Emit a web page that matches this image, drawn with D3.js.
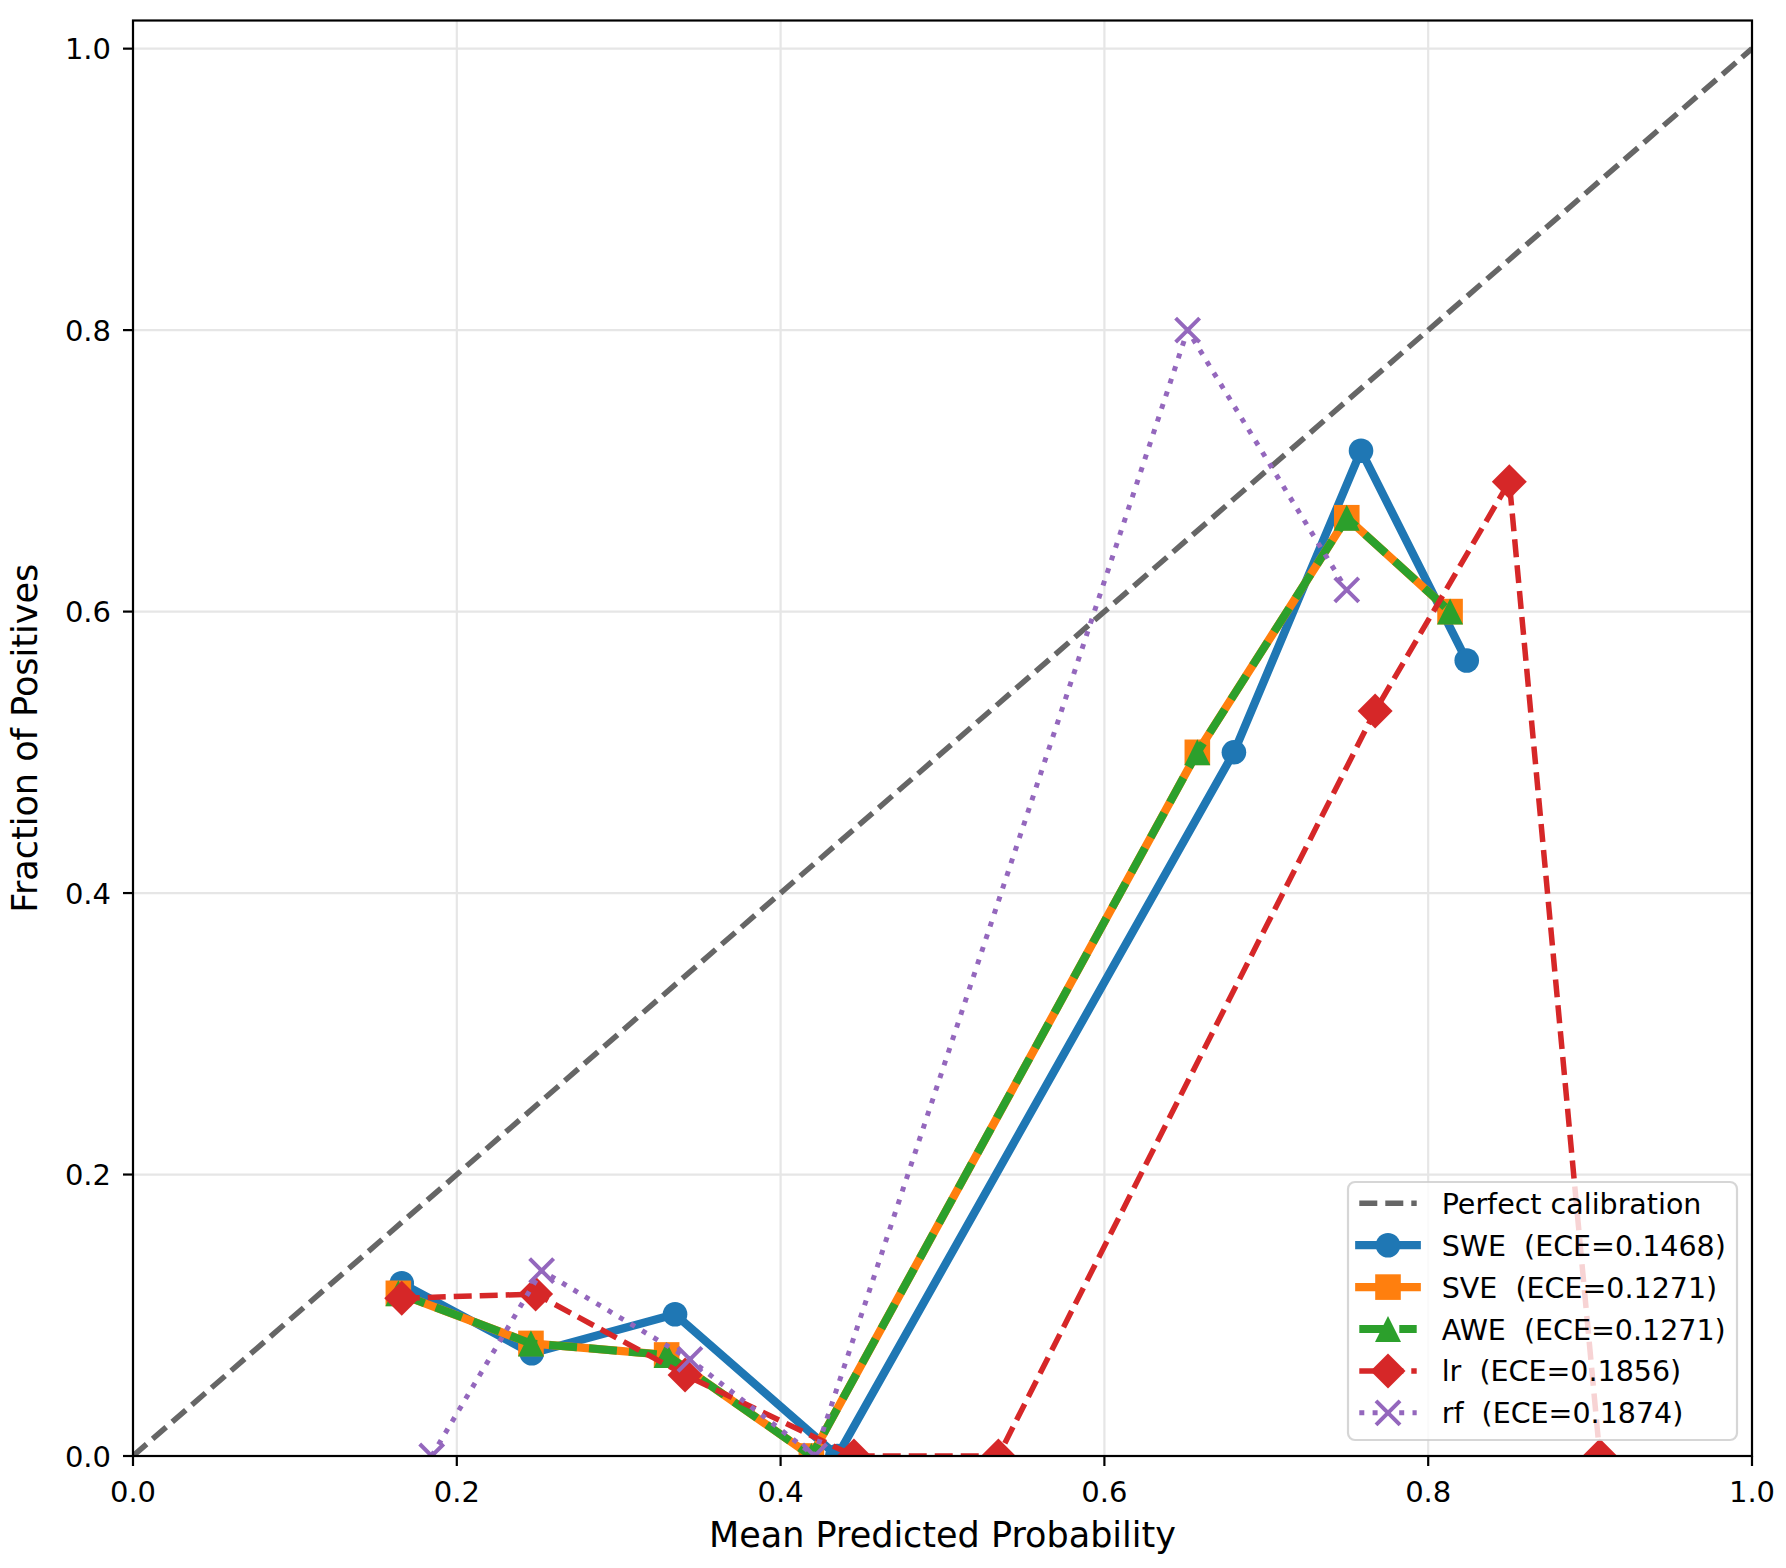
<!DOCTYPE html>
<html>
<head>
<meta charset="utf-8">
<script src="https://cdn.jsdelivr.net/npm/d3@7"></script>
<style>
  html, body { margin: 0; padding: 0; background: #fff; }
  text { font-family: "DejaVu Sans", sans-serif; fill: #000; }
</style>
</head>
<body>
<div id="chart"></div>
<script>
// Values
const ticks = [0.0, 0.2, 0.4, 0.6, 0.8, 1.0];
const tickLabels = ["0.0", "0.2", "0.4", "0.6", "0.8", "1.0"];

const sweX = [0.166, 0.2463, 0.3348, 0.435, 0.680, 0.7585, 0.8238];
const sweY = [0.1227, 0.0730, 0.1007, 0.0, 0.5, 0.7143, 0.5652];

const sveX = [0.1639, 0.2458, 0.3296, 0.419, 0.6574, 0.7497, 0.8135];
const sveY = [0.1156, 0.0800, 0.0718, 0.0, 0.5, 0.6667, 0.6];

const aweX = [0.1639, 0.2458, 0.3296, 0.419, 0.6574, 0.7497, 0.8135];
const aweY = [0.1156, 0.0800, 0.0718, 0.0, 0.5, 0.6667, 0.6];

const lrX = [0.166, 0.2487, 0.341, 0.4453, 0.5345, 0.7672, 0.8501, 0.906];
const lrY = [0.1121, 0.1151, 0.0576, 0.0, 0.0, 0.5294, 0.6923, 0.0];

const rfX = [0.1845, 0.2524, 0.344, 0.421, 0.6514, 0.7497];
const rfY = [0.0, 0.1317, 0.0687, 0.0, 0.8, 0.6154];

const diagX = [0, 1];
const diagY = [0, 1];

const names = ["Perfect calibration", "SWE  (ECE=0.1468)", "SVE  (ECE=0.1271)",
               "AWE  (ECE=0.1271)", "lr  (ECE=0.1856)", "rf  (ECE=0.1874)"];

// styles (kept apart from the data)
const styles = [
  { color: "#666666", width: 5.5, dash: "18,8", cap: "butt", marker: null },
  { color: "#1f77b4", width: 8.3, dash: null, cap: "square", marker: "circle" },
  { color: "#ff7f0e", width: 8.3, dash: null, cap: "square", marker: "square" },
  { color: "#2ca02c", width: 8, dash: "28,12", cap: "butt", marker: "triangle" },
  { color: "#d62728", width: 5.5, dash: "18,8", cap: "butt", marker: "diamond" },
  { color: "#9467bd", width: 5, dash: "5,8.3", cap: "butt", marker: "x" }
];

const series = [
  { x: diagX, y: diagY },
  { x: sweX, y: sweY },
  { x: sveX, y: sveY },
  { x: aweX, y: aweY },
  { x: lrX, y: lrY },
  { x: rfX, y: rfY }
];

const W = 1786, H = 1568;
const margin = { top: 20.5, right: 34, bottom: 112, left: 133 };
const width = W - margin.left - margin.right;
const height = H - margin.top - margin.bottom;

const svg = d3.select("#chart").append("svg")
  .attr("width", W)
  .attr("height", H);

const g = svg.append("g")
  .attr("transform", `translate(${margin.left},${margin.top})`);

const x = d3.scaleLinear().domain([0, 1]).range([0, width]);
const y = d3.scaleLinear().domain([0, 1.02]).range([height, 0]);

// clip area
svg.append("defs").append("clipPath").attr("id", "plotclip")
  .append("rect").attr("x", 0).attr("y", 0).attr("width", width).attr("height", height);

// grid
g.append("g").selectAll("line").data(ticks).enter().append("line")
  .attr("x1", d => x(d)).attr("x2", d => x(d))
  .attr("y1", 0).attr("y2", height)
  .attr("stroke", "#e6e6e6").attr("stroke-width", 2.2);
g.append("g").selectAll("line").data(ticks).enter().append("line")
  .attr("x1", 0).attr("x2", width)
  .attr("y1", d => y(d)).attr("y2", d => y(d))
  .attr("stroke", "#e6e6e6").attr("stroke-width", 2.2);

// marker path generator
function markerPath(type) {
  if (type === "circle") {
    return d3.symbol().type(d3.symbolCircle).size(Math.PI * 12.3 * 12.3)();
  }
  if (type === "square") {
    const s = 12.8;
    return `M${-s},${-s}L${s},${-s}L${s},${s}L${-s},${s}Z`;
  }
  if (type === "triangle") {
    const s = 13;
    return `M0,${-s}L${s},${s}L${-s},${s}Z`;
  }
  if (type === "diamond") {
    const s = 17.5;
    return `M0,${-s}L${s},0L0,${s}L${-s},0Z`;
  }
  if (type === "x") {
    const s = 12;
    return `M${-s},${-s}L${s},${s}M${-s},${s}L${s},${-s}`;
  }
  return "";
}

function drawMarker(sel, type, color) {
  if (type === "x") {
    sel.attr("d", markerPath(type)).attr("fill", "none")
      .attr("stroke", color).attr("stroke-width", 4);
  } else {
    sel.attr("d", markerPath(type)).attr("fill", color).attr("stroke", "none");
  }
}

const plot = g.append("g").attr("clip-path", "url(#plotclip)");

const line = d3.line().x(d => x(d[0])).y(d => y(d[1]));

series.forEach((s, i) => {
  const st = styles[i];
  const pts = s.x.map((v, j) => [v, s.y[j]]);
  plot.append("path")
    .datum(pts)
    .attr("d", line)
    .attr("fill", "none")
    .attr("stroke", st.color)
    .attr("stroke-width", st.width)
    .attr("stroke-linecap", st.cap)
    .attr("stroke-linejoin", "round")
    .attr("stroke-dasharray", st.dash);
  if (st.marker) {
    plot.append("g").selectAll("path").data(pts).enter().append("path")
      .attr("transform", d => `translate(${x(d[0])},${y(d[1])})`)
      .call(sel => drawMarker(sel, st.marker, st.color));
  }
});

// spines
g.append("rect")
  .attr("x", 0).attr("y", 0).attr("width", width).attr("height", height)
  .attr("fill", "none").attr("stroke", "#000").attr("stroke-width", 2.2);

// x ticks
const xt = g.append("g");
xt.selectAll("line").data(ticks).enter().append("line")
  .attr("x1", d => x(d)).attr("x2", d => x(d))
  .attr("y1", height).attr("y2", height + 10)
  .attr("stroke", "#000").attr("stroke-width", 2.2);
xt.selectAll("text").data(ticks).enter().append("text")
  .attr("x", d => x(d)).attr("y", height + 46)
  .attr("text-anchor", "middle")
  .style("font-size", "29px")
  .text((d, i) => tickLabels[i]);

// y ticks
const yt = g.append("g");
yt.selectAll("line").data(ticks).enter().append("line")
  .attr("x1", -10).attr("x2", 0)
  .attr("y1", d => y(d)).attr("y2", d => y(d))
  .attr("stroke", "#000").attr("stroke-width", 2.2);
yt.selectAll("text").data(ticks).enter().append("text")
  .attr("x", -22).attr("y", d => y(d) + 10.5)
  .attr("text-anchor", "end")
  .style("font-size", "29px")
  .text((d, i) => tickLabels[i]);

// axis labels
g.append("text")
  .attr("x", width / 2).attr("y", height + 91)
  .attr("text-anchor", "middle")
  .style("font-size", "35px")
  .text("Mean Predicted Probability");

svg.append("text")
  .attr("transform", `translate(37,${margin.top + height / 2}) rotate(-90)`)
  .attr("text-anchor", "middle")
  .style("font-size", "35px")
  .text("Fraction of Positives");

// legend
const legend = svg.append("g").attr("transform", "translate(1348,1182)");
legend.append("rect")
  .attr("x", 0).attr("y", 0).attr("width", 389).attr("height", 258)
  .attr("rx", 7).attr("ry", 7)
  .attr("fill", "#fff").attr("fill-opacity", 0.8)
  .attr("stroke", "#cccccc").attr("stroke-opacity", 0.8).attr("stroke-width", 2.2);

names.forEach((name, i) => {
  const st = styles[i];
  const cy = 21.3 + i * 41.9;
  const row = legend.append("g").attr("transform", `translate(0,${cy})`);
  row.append("line")
    .attr("x1", 11.3).attr("x2", 68.7).attr("y1", 0).attr("y2", 0)
    .attr("stroke", st.color)
    .attr("stroke-width", st.width)
    .attr("stroke-linecap", st.cap)
    .attr("stroke-dasharray", st.dash);
  if (st.marker) {
    row.append("path")
      .attr("transform", "translate(40,0)")
      .call(sel => drawMarker(sel, st.marker, st.color));
  }
  row.append("text")
    .attr("x", 93.7).attr("y", 10.5)
    .attr("xml:space", "preserve")
    .style("white-space", "pre")
    .style("font-size", "28.5px")
    .text(name);
});
</script>
</body>
</html>
